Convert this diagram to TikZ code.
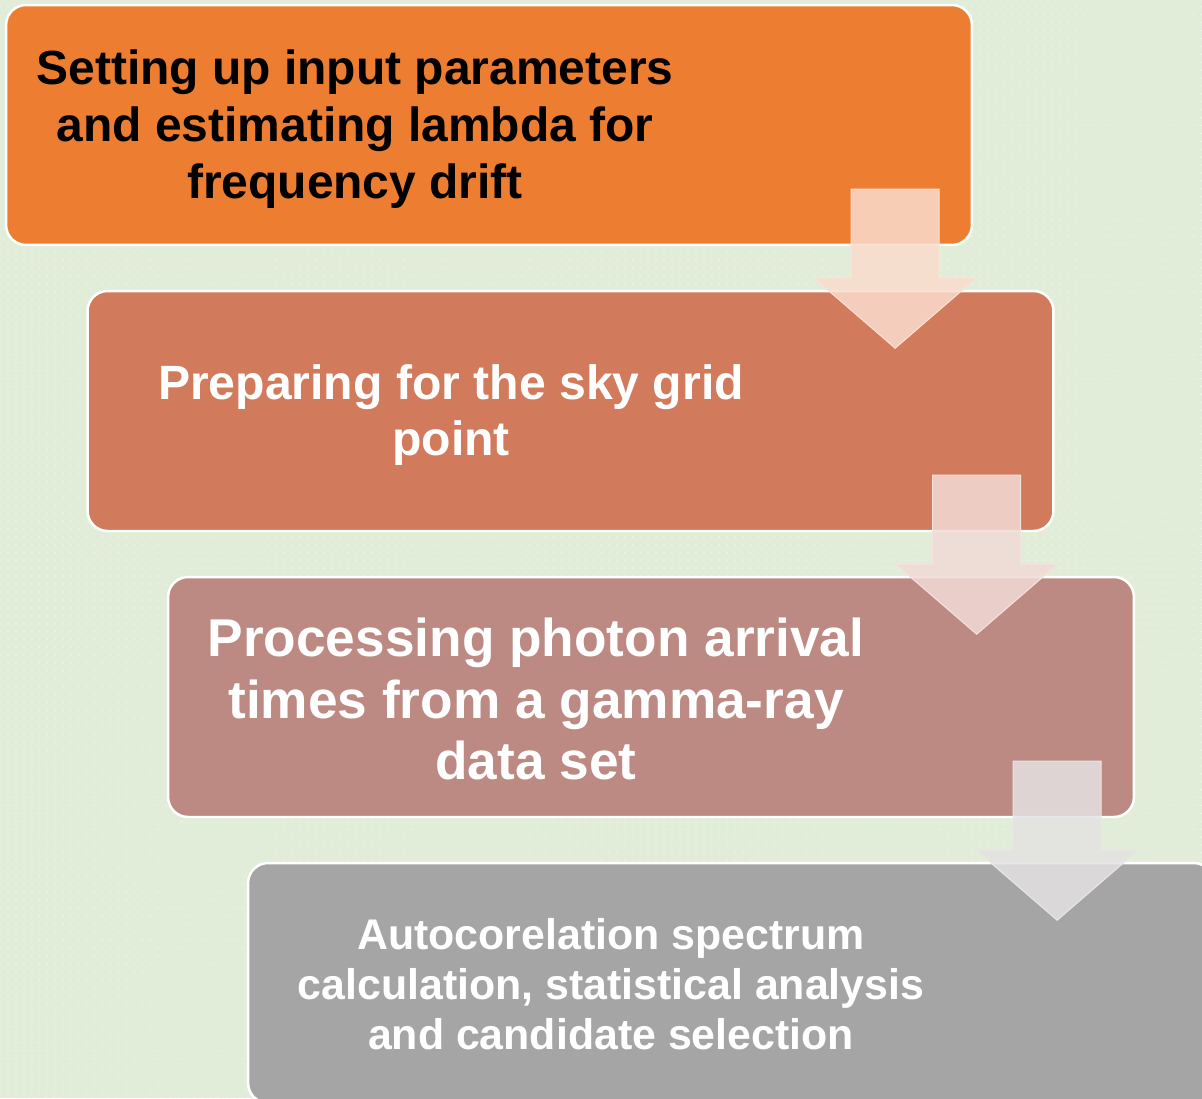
\documentclass[tikz,border=0pt]{standalone}
\usepackage{fontspec}
\setmainfont{Liberation Sans}
\usetikzlibrary{patterns.meta}

\definecolor{bggreen}{RGB}{226,237,217}
\definecolor{stepone}{RGB}{237,125,49}
\definecolor{steptwo}{RGB}{210,122,92}
\definecolor{stepthree}{RGB}{188,138,130}
\definecolor{stepfour}{RGB}{165,165,165}

\begin{document}
\begin{tikzpicture}[x=0.02cm,y=-0.02cm]
    \useasboundingbox (0,0) rectangle (1202,1098);
    \clip (0,0) rectangle (1202,1098);
    \tikzset{StepBox/.style = {%
        rectangle,
        rounded corners=0.4cm,
        minimum width=19.32cm,
        minimum height=4.8cm,
        inner sep=0pt,
        draw=white,
        line width=1.4pt},
      StepText/.style = {%
        align=center,
        inner sep=0pt},
      FlowArrow/.pic = {%
        \filldraw (-44,0) -- (44,0) -- (44,89) -- (81,89)
          -- (0,159) -- (-81,89) -- (-44,89) -- cycle;}}
    % dotted background
    \fill[bggreen] (0,0) rectangle (1202,1098);
    \fill[pattern={Dots[distance=4.5pt,radius=0.4pt]},pattern color=white!55!bggreen]
      (0,0) rectangle (1202,1098);
    % the four steps
    \node[StepBox,fill=stepone]   (s1) at (489,125) {};
    \node[StepBox,fill=steptwo]   (s2) at (570.5,411) {};
    \node[StepBox,fill=stepthree] (s3) at (651,697) {};
    \node[StepBox,fill=stepfour]  (s4) at (731,983) {};
    \node[StepText,font=\bfseries\fontsize{27.3}{32.3}\selectfont] (t1) at (355,129)
      {Setting up input parameters\\and estimating lambda for\\frequency drift};
    \node[StepText,text=white,font=\bfseries\fontsize{27.4}{32.3}\selectfont] (t2) at (451,415)
      {Preparing for the sky grid\\point};
    \node[StepText,text=white,font=\bfseries\fontsize{30.3}{35.2}\selectfont] (t3) at (536,699)
      {Processing photon arrival\\times from a gamma-ray\\data set};
    \node[StepText,text=white,font=\bfseries\fontsize{24.4}{28.3}\selectfont] (t4) at (611,984)
      {Autocorelation spectrum\\calculation, statistical analysis\\and candidate selection};
    % arrows between steps
    \pic[fill={rgb,255:red,250;green,220;blue,205},draw={rgb,255:red,252;green,226;blue,214},
      fill opacity=0.85,line width=0.6pt] at ([shift={(-78,-57)}]s1.south east) {FlowArrow};
    \pic[fill={rgb,255:red,241;green,219;blue,214},draw={rgb,255:red,244;green,226;blue,222},
      fill opacity=0.85,line width=0.6pt] at ([shift={(-78,-57)}]s2.south east) {FlowArrow};
    \pic[fill={rgb,255:red,228;green,226;blue,226},draw={rgb,255:red,232;green,230;blue,230},
      fill opacity=0.85,line width=0.6pt] at ([shift={(-78,-57)}]s3.south east) {FlowArrow};
\end{tikzpicture}
\end{document}
